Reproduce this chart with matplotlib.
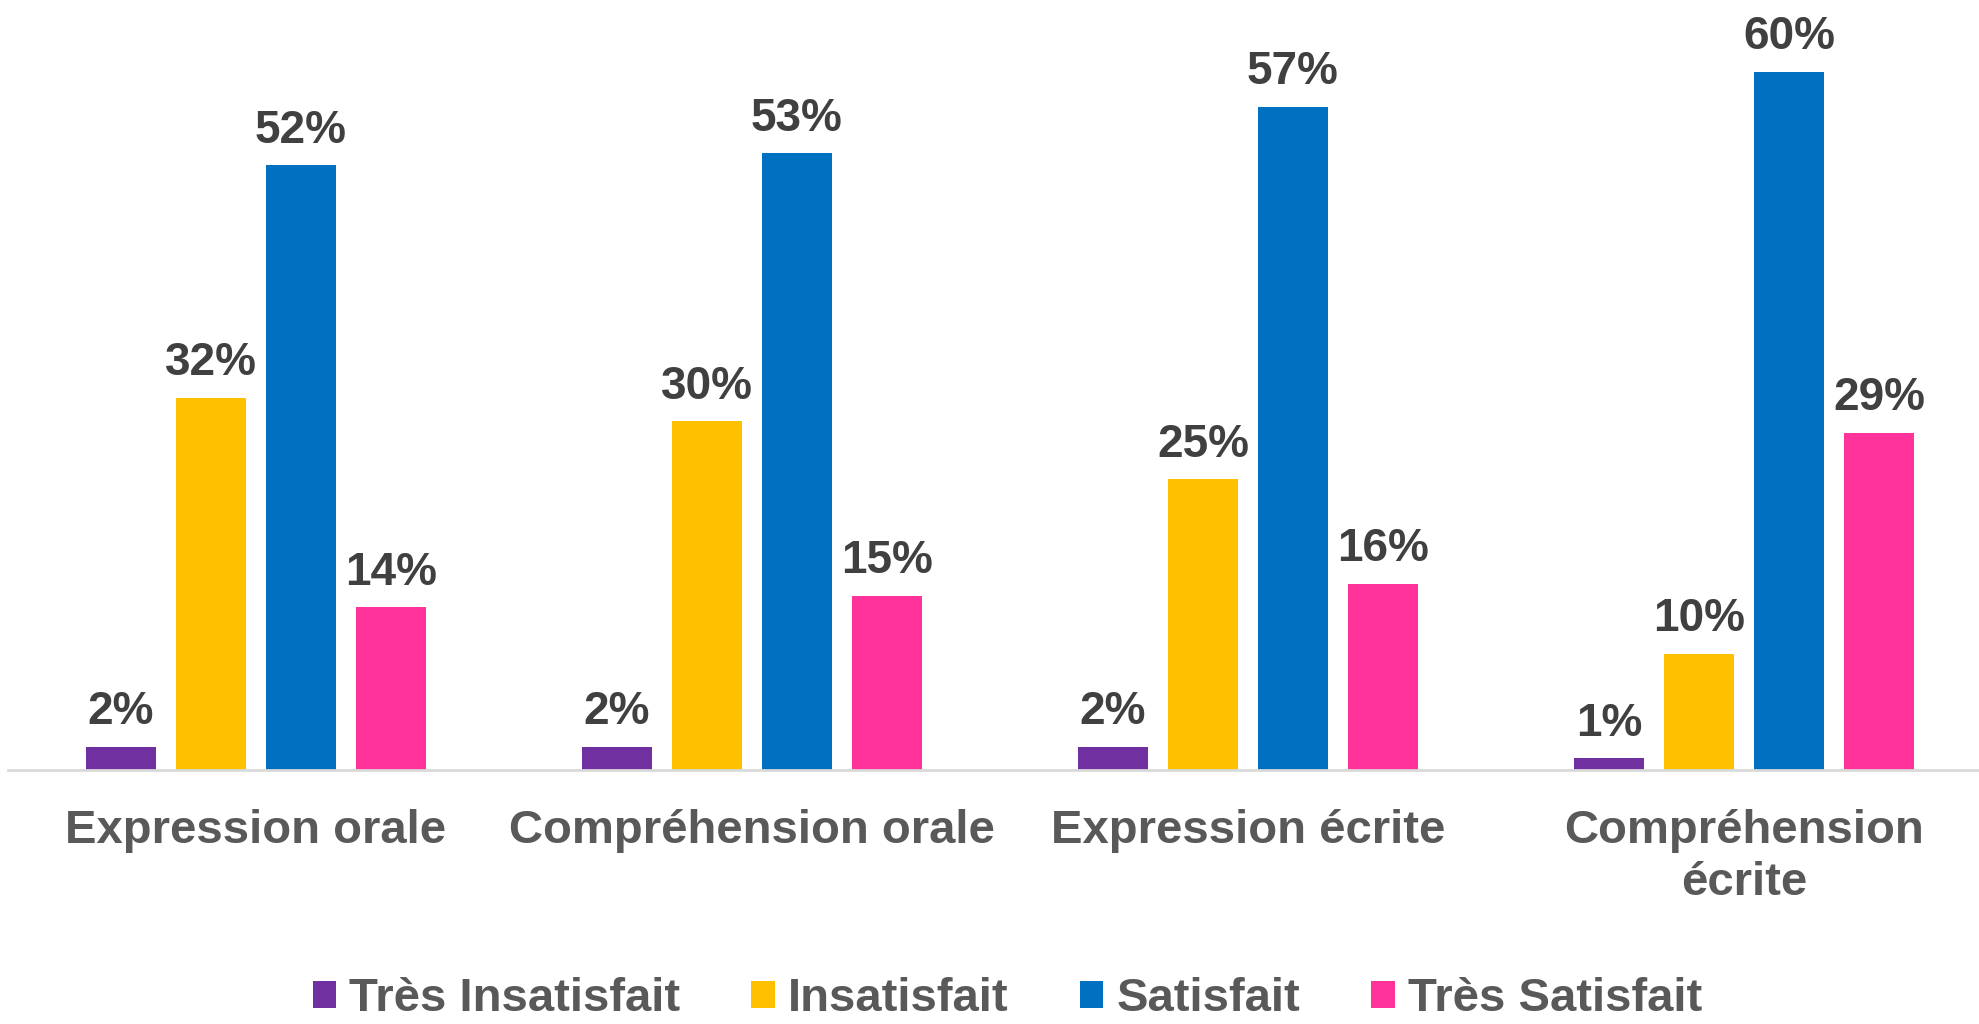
import numpy as np
import matplotlib
matplotlib.use("Agg")
import matplotlib.pyplot as plt

plt.rcParams['font.family'] = ['Liberation Sans', 'DejaVu Sans']

categories = ["Expression orale", "Compréhension orale", "Expression écrite", "Compréhension\nécrite"]
series = ["Très Insatisfait", "Insatisfait", "Satisfait", "Très Satisfait"]
tres_insatisfait = [2, 2, 2, 1]
insatisfait = [32, 30, 25, 10]
satisfait = [52, 53, 57, 60]
tres_satisfait = [14, 15, 16, 29]
colors = ["#7030A0", "#FFC000", "#0070C0", "#FF3399"]

values = [tres_insatisfait, insatisfait, satisfait, tres_satisfait]

fig = plt.figure(figsize=(19.79, 10.24), dpi=100)
ax = fig.add_axes([8 / 1979, 0.248, 4 * 496 / 1979, 0.9297 - 0.248])

x = np.arange(len(categories))
step = 90 / 496
width = 70 / 496
for i, (name, vals) in enumerate(zip(series, values)):
    pos = x + (i - 1.5) * step
    bars = ax.bar(pos, vals, width, color=colors[i], label=name)
    for b, v in zip(bars, vals):
        ax.annotate(f"{v}%", (b.get_x() + b.get_width() / 2, v),
                    xytext=(0, 9), textcoords="offset points",
                    ha="center", va="bottom", fontsize=33,
                    fontweight="bold", color="#404040")

ax.set_xlim(-0.5, 3.5)
ax.set_ylim(0, 60)
ax.set_yticks([])
for s in ["top", "left", "right"]:
    ax.spines[s].set_visible(False)
ax.spines["bottom"].set_color("#D9D9D9")
ax.spines["bottom"].set_linewidth(2)
ax.set_xticks(x)
ax.set_xticklabels(categories, fontsize=34, fontweight="bold", color="#595959",
                   linespacing=1.25)
ax.tick_params(axis="x", length=0, pad=28)

fig.legend(loc="center", bbox_to_anchor=(0.509, 0.024), ncol=4, frameon=False,
           prop={"size": 34, "weight": "bold"}, labelcolor="#595959",
           handlelength=0.5, handleheight=0.5, handletextpad=0.28,
           columnspacing=1.5)

fig.savefig("out.png", dpi=100)
